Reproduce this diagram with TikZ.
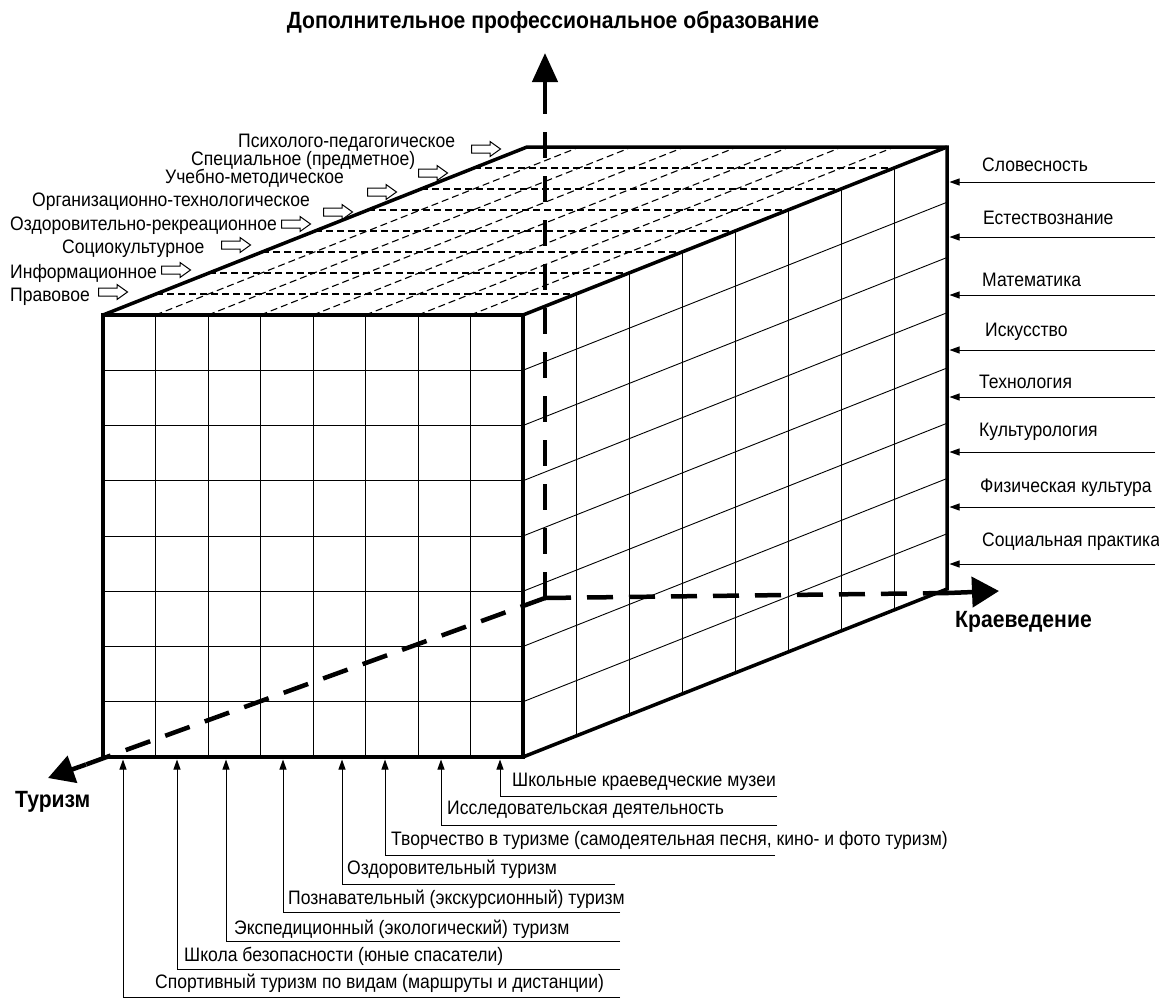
\documentclass[tikz,border=0pt]{standalone}
\usepackage{fontspec}
\setmainfont{Liberation Sans}[FakeStretch=0.9]
\usetikzlibrary{arrows.meta,calc}
\begin{document}
\begin{tikzpicture}[x=1pt,y=-1pt,
  lbl/.style={font=\fontsize{19.5}{22}\selectfont, inner sep=0pt, anchor=west},
  axlbl/.style={font=\fontsize{23.5}{26}\selectfont\bfseries, inner sep=0pt},
  gridline/.style={line width=0.9pt},
  cubeedge/.style={line width=3.5pt},
  topdash/.style={line width=1.1pt, dash pattern=on 7pt off 4pt},
  axisdash/.style={line width=4.5pt, dash pattern=on 26pt off 16pt},
  vaxisdash/.style={line width=4.5pt, dash pattern=on 26pt off 18pt},
  axishead/.style={line width=4.5pt},
  pointer/.style={line width=1pt, -{Triangle[length=10pt,width=7pt]}},
  harrow/.pic={\draw[line width=1pt, fill=white] (-14.5,-4)--(4,-4)--(4,-7.5)--(14.5,0)--(4,7.5)--(4,4)--(-14.5,4)--cycle;}
]
\useasboundingbox (0,0) rectangle (1159,999);
\fill[white] (0,0) rectangle (1159,999);

% cube corners
\coordinate (F1) at (103,315);
\coordinate (F2) at (523,315);
\coordinate (F3) at (523,757);
\coordinate (F4) at (103,757);
\coordinate (B1) at (527,147);
\coordinate (B2) at (947,147);
\coordinate (B3) at (947,589);

% grids
\foreach \i in {1,...,7}{
  % front face
  \draw[gridline] ($(F1)!\i/8!(F2)$) -- ($(F4)!\i/8!(F3)$);
  \draw[gridline] ($(F1)!\i/8!(F4)$) -- ($(F2)!\i/8!(F3)$);
  % right face
  \draw[gridline] ($(F2)!\i/8!(B2)$) -- ($(F3)!\i/8!(B3)$);
  \draw[gridline] ($(F2)!\i/8!(F3)$) -- ($(B2)!\i/8!(B3)$);
  % top face (dashed)
  \draw[topdash] ($(F1)!\i/8!(F2)$) -- ($(B1)!\i/8!(B2)$);
  \draw[topdash] ($(F1)!\i/8!(B1)$) -- ($(F2)!\i/8!(B2)$);
}

% cube edges
\draw[cubeedge] (F1) -- (F2) -- (F3) -- (F4) -- cycle;
\draw[cubeedge, line join=miter] (F1) -- (B1) -- (B2) -- (B3) -- (F3);
\draw[cubeedge] (F2) -- (B2);

% axes
\coordinate (O) at (545,598);
\coordinate (Vend) at (545,88);
\coordinate (Vtip) at (545,53);
\coordinate (Hend) at (948,593);
\coordinate (Htip) at (999,591);
\coordinate (Tend) at (86,764.5);
\coordinate (Ttip) at (48,778);
\draw[vaxisdash] (Vend) -- (O);
\draw[axisdash] (O) -- (Hend);
\draw[axisdash] (O) -- (Tend);
\draw[axishead, -{Triangle[length=29pt,width=25pt]}] (Vend) -- (Vtip);
\draw[axishead, -{Triangle[length=27pt,width=30pt]}] (Hend) -- (Htip);
\draw[axishead, -{Triangle[length=26pt,width=28pt]}] (Tend) -- (Ttip);

\node[axlbl] (tdpo) at (553,22) {Дополнительное профессиональное образование};
\node[axlbl, anchor=west] (tkr) at (955,622) {Краеведение};
\node[axlbl, anchor=west] (ttur) at (15,802) {Туризм};

% top-left labels
\node[lbl] (l8) at (238,143) {Психолого-педагогическое};
\node[lbl] (l7) at (191,160) {Специальное (предметное)};
\node[lbl] (l6) at (165,178) {Учебно-методическое};
\node[lbl] (l5) at (32,202) {Организационно-технологическое};
\node[lbl] (l4) at (10,226) {Оздоровительно-рекреационное};
\node[lbl] (l3) at (62,249) {Социокультурное};
\node[lbl] (l2) at (10,273) {Информационное};
\node[lbl] (l1) at (10,297) {Правовое};
\pic at (486,149) {harrow};
\pic at (433,173) {harrow};
\pic at (382,192) {harrow};
\pic at (338,212) {harrow};
\pic at (296,224) {harrow};
\pic at (236,245) {harrow};
\pic at (176,270) {harrow};
\pic at (113,292) {harrow};

% right labels
\foreach \k/\yt/\yl/\xt/\t in {
  1/165/182/982/{Словесность},
  2/218/237/983/{Естествознание},
  3/280/295/982/{Математика},
  4/332/350/985/{Искусство},
  5/382/397/979/{Технология},
  6/432/452/979/{Культурология},
  7/488/507/980/{Физическая культура},
  8/542/564/982/{Социальная практика}}{
  \node[lbl] (r\k) at (\xt,\yt) {\t};
  \coordinate (rs\k) at (1155,\yl);
  \coordinate (re\k) at (949.5,\yl);
  \draw[pointer] (rs\k) -- (re\k);
}

% bottom labels
\foreach \k/\xv/\ul/\xr/\yt/\xt/\t in {
  1/500/796/777/782/512/{Школьные краеведческие музеи},
  2/441/825/777/810/447/{Исследовательская деятельность},
  3/385/855/775/840/391/{Творчество в туризме (самодеятельная песня, кино- и фото туризм)},
  4/342/884/615/869/347/{Оздоровительный туризм},
  5/283/912/620/899/288/{Познавательный (экскурсионный) туризм},
  6/226/941/620/929/234/{Экспедиционный (экологический) туризм},
  7/177/969/620/956/184/{Школа безопасности (юные спасатели)},
  8/123/997/620/983/155/{Спортивный туризм по видам (маршруты и дистанции)}}{
  \node[lbl] (b\k) at (\xt,\yt) {\t};
  \coordinate (bs\k) at (\xr,\ul);
  \coordinate (bc\k) at (\xv,\ul);
  \coordinate (be\k) at (\xv,759.5);
  \draw[pointer] (bs\k) -- (bc\k) -- (be\k);
}
\end{tikzpicture}
\end{document}
